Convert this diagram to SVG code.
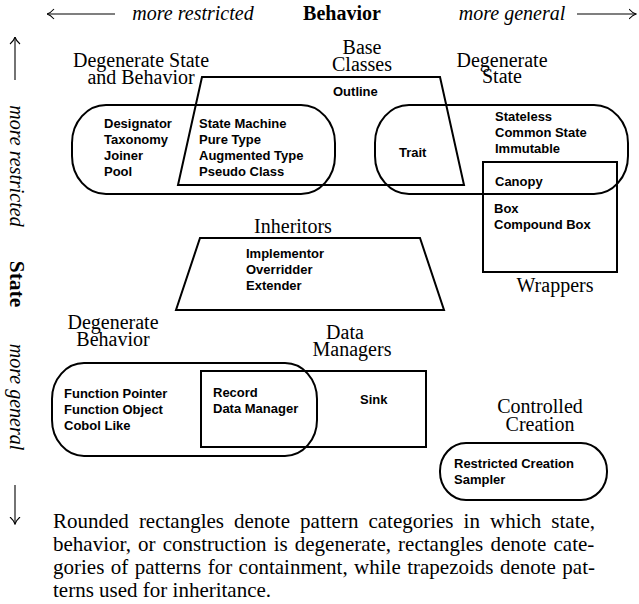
<svg xmlns="http://www.w3.org/2000/svg" width="639" height="604" viewBox="0 0 639 604">
<style>
.shape{fill:none;stroke:#000;stroke-width:2}
.lbl{font-family:"Liberation Serif","Times New Roman",serif;font-size:20px;fill:#000;text-anchor:middle}
.item{font-family:"Liberation Sans",Arial,sans-serif;font-size:13px;font-weight:bold;fill:#000}
.hdr{font-family:"Liberation Serif","Times New Roman",serif;font-size:20px;fill:#000;text-anchor:middle}
.it{font-style:italic}
.bd{font-weight:bold}
.cap{font-family:"Liberation Serif","Times New Roman",serif;font-size:21px;fill:#000}
.axis{fill:none;stroke:#000;stroke-width:1.1}
</style>
<defs>
<marker id="ah" viewBox="0 0 8 12" refX="7.5" refY="6" markerWidth="8" markerHeight="12" markerUnits="userSpaceOnUse" orient="auto">
<path d="M0.5,1 Q4,5 7.5,6 Q4,7 0.5,11" fill="none" stroke="#000" stroke-width="1.1"/>
</marker>
</defs>

<g id="connectors">
<line class="axis" x1="115" y1="14" x2="47" y2="14" marker-end="url(#ah)"/>
<line class="axis" x1="577" y1="14" x2="636" y2="14" marker-end="url(#ah)"/>
<line class="axis" x1="15" y1="80" x2="15" y2="37" marker-end="url(#ah)"/>
<line class="axis" x1="15" y1="485" x2="15" y2="524" marker-end="url(#ah)"/>
</g>

<g id="axis-labels">
<text class="hdr it" x="193" y="20">more restricted</text>
<text class="hdr bd" x="342" y="20">Behavior</text>
<text class="hdr it" x="512" y="20">more general</text>
<text class="hdr it" transform="translate(10,166) rotate(90)">more restricted</text>
<text class="hdr bd" style="font-size:21.5px" transform="translate(10,284) rotate(90)">State</text>
<text class="hdr it" transform="translate(10,397) rotate(90)">more general</text>
</g>

<g id="degenerate-state-behavior">
<text class="lbl" x="141" y="67">Degenerate State</text>
<text class="lbl" x="141" y="84">and Behavior</text>
<rect class="shape" x="72" y="105" width="263" height="89" rx="34" ry="38"/>
<text class="item" x="104" y="128">Designator</text>
<text class="item" x="104" y="144">Taxonomy</text>
<text class="item" x="104" y="160">Joiner</text>
<text class="item" x="104" y="176">Pool</text>
</g>

<g id="base-classes">
<text class="lbl" x="362" y="54">Base</text>
<text class="lbl" x="362" y="71">Classes</text>
<polygon class="shape" points="202,77 440,77 464,185 178,185"/>
<text class="item" x="333" y="96">Outline</text>
<text class="item" x="199" y="128">State Machine</text>
<text class="item" x="199" y="144">Pure Type</text>
<text class="item" x="199" y="160">Augmented Type</text>
<text class="item" x="199" y="176">Pseudo Class</text>
</g>

<g id="degenerate-state">
<text class="lbl" x="502" y="67">Degenerate</text>
<text class="lbl" x="502" y="83">State</text>
<rect class="shape" x="375" y="105" width="253" height="89" rx="34" ry="38"/>
<text class="item" x="399" y="157">Trait</text>
<text class="item" x="495" y="121">Stateless</text>
<text class="item" x="495" y="137">Common State</text>
<text class="item" x="495" y="153">Immutable</text>
</g>

<g id="wrappers">
<rect class="shape" x="483" y="162" width="134" height="110"/>
<text class="item" x="495" y="186">Canopy</text>
<text class="item" x="494" y="213">Box</text>
<text class="item" x="494" y="229">Compound Box</text>
<text class="lbl" x="555" y="292">Wrappers</text>
</g>

<g id="inheritors">
<text class="lbl" x="293" y="233">Inheritors</text>
<polygon class="shape" points="200,238 420,238 444,310 176,310"/>
<text class="item" x="246" y="258">Implementor</text>
<text class="item" x="246" y="274">Overridder</text>
<text class="item" x="246" y="290">Extender</text>
</g>

<g id="degenerate-behavior">
<text class="lbl" x="113" y="329">Degenerate</text>
<text class="lbl" x="113" y="346">Behavior</text>
<rect class="shape" x="52" y="363" width="265" height="93" rx="32" ry="36"/>
<text class="item" x="64" y="398">Function Pointer</text>
<text class="item" x="64" y="414">Function Object</text>
<text class="item" x="64" y="430">Cobol Like</text>
</g>

<g id="data-managers">
<text class="lbl" x="345" y="339">Data</text>
<text class="lbl" x="352" y="356">Managers</text>
<rect class="shape" x="201" y="371" width="225" height="76"/>
<text class="item" x="213" y="397">Record</text>
<text class="item" x="213" y="413">Data Manager</text>
<text class="item" x="360" y="404">Sink</text>
</g>

<g id="controlled-creation">
<text class="lbl" x="540" y="413">Controlled</text>
<text class="lbl" x="540" y="431">Creation</text>
<rect class="shape" x="440" y="443" width="167" height="57" rx="26" ry="28"/>
<text class="item" x="454" y="468">Restricted Creation</text>
<text class="item" x="454" y="484">Sampler</text>
</g>

<g id="caption">
<text class="cap" x="53" y="528" word-spacing="4.8">Rounded rectangles denote pattern categories in which state,</text>
<text class="cap" x="53" y="551" word-spacing="1.9">behavior, or construction is degenerate, rectangles denote cate-</text>
<text class="cap" x="53" y="574" word-spacing="1.2">gories of patterns for containment, while trapezoids denote pat-</text>
<text class="cap" x="53" y="597">terns used for inheritance.</text>
</g>
</svg>
